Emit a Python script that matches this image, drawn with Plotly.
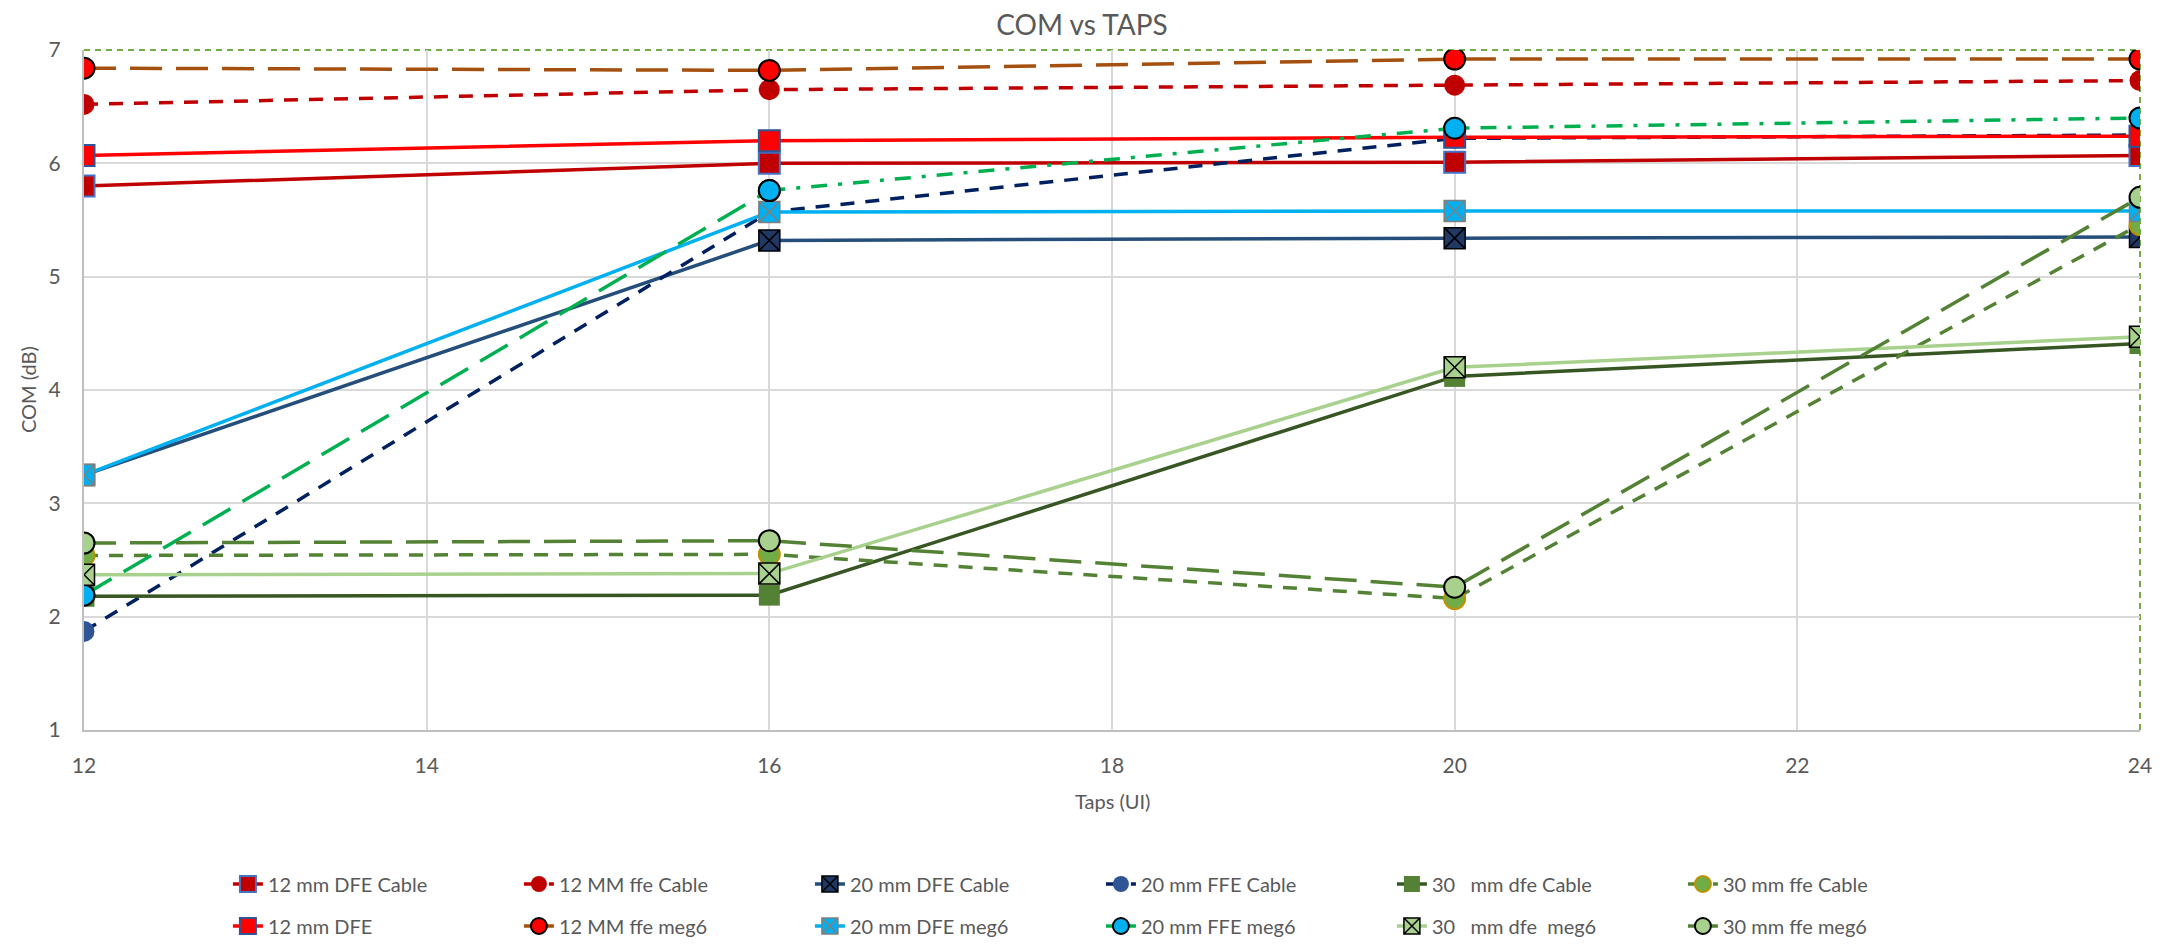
import plotly.graph_objects as go

taps = [12, 16, 20, 24]

dfe12_cable = [5.80, 6.00, 6.01, 6.07]
ffe12_cable = [6.52, 6.65, 6.69, 6.73]
dfe20_cable = [3.25, 5.32, 5.34, 5.35]
ffe20_cable = [1.87, 5.57, 6.22, 6.25]
dfe30_cable = [2.18, 2.19, 4.12, 4.41]
ffe30_cable = [2.54, 2.55, 2.16, 5.46]
dfe12_meg6 = [6.07, 6.20, 6.23, 6.24]
ffe12_meg6 = [6.84, 6.82, 6.92, 6.92]
dfe20_meg6 = [3.25, 5.57, 5.58, 5.58]
ffe20_meg6 = [2.19, 5.76, 6.31, 6.40]
dfe30_meg6 = [2.37, 2.38, 4.20, 4.47]
ffe30_meg6 = [2.65, 2.67, 2.26, 5.70]

x_ticks = [12, 14, 16, 18, 20, 22, 24]
y_ticks = [1, 2, 3, 4, 5, 6, 7]

MS = 21
LW = 3.5
SHORT = "14px,11px"
LONG = "32px,14px"
DASHDOT = "16px,11px,4px,11px"

fig = go.Figure()


def add(name, y, lcolor, dash, symbol, mfill, mline, mlw, legend, x=None, showlegend=True, group=None):
    fig.add_trace(go.Scatter(
        x=taps if x is None else x, y=y, name=name, mode="lines+markers",
        line=dict(color=lcolor, width=LW, dash=dash),
        marker=dict(symbol=symbol, size=MS, color=mfill,
                    line=dict(color=mline, width=mlw)),
        legend=legend, showlegend=showlegend,
        legendgroup=group if group else name,
    ))


# Row 1 (Cable)
add("12 mm DFE Cable", dfe12_cable, "#C00000", "solid", "square", "#C00000", "#4472C4", 2, "legend")
add("12 MM ffe Cable", ffe12_cable, "#C00000", SHORT, "circle", "#C00000", "#C00000", 0, "legend")
add("20 mm DFE Cable", dfe20_cable, "#264E7A", "solid", "square-x", "#1F3864", "#000000", 1.5, "legend")
add("20 mm FFE Cable", ffe20_cable, "#002060", SHORT, "circle", "#2F5597", "#2F5597", 0, "legend")
add("30   mm dfe Cable", dfe30_cable, "#375623", "solid", "square", "#548235", "#548235", 0, "legend")
add("30 mm ffe Cable", ffe30_cable, "#548235", SHORT, "circle", "#70AD47", "#BF9000", 2, "legend")
# Row 2 (meg6)
add("12 mm DFE", dfe12_meg6, "#FF0000", "solid", "square", "#FF0000", "#2F5597", 2, "legend2")
add("12 MM ffe meg6", ffe12_meg6, "#A5500F", LONG, "circle", "#FF0000", "#000000", 2, "legend2")
add("20 mm DFE meg6", dfe20_meg6, "#00B0F0", "solid", "square-x", "#00B0F0", "#7F7F7F", 1.5, "legend2")
add("20 mm FFE meg6", ffe20_meg6[:2], "#00B050", LONG, "circle", "#00B0F0", "#000000", 2, "legend2",
    x=taps[:2], group="ffe20meg6")
add("20 mm FFE meg6", ffe20_meg6[1:], "#00B050", DASHDOT, "circle", "#00B0F0", "#000000", 2, "legend2",
    x=taps[1:], showlegend=False, group="ffe20meg6")
add("30   mm dfe  meg6", dfe30_meg6, "#A9D18E", "solid", "square-x", "#A9D18E", "#000000", 1.5, "legend2")
add("30 mm ffe meg6", ffe30_meg6, "#548235", LONG, "circle", "#A9D18E", "#000000", 2, "legend2")

FONT = "Lato"
GREY = "#595959"

# dashed green plot-area border (top and right edges)
fig.add_shape(type="line", xref="paper", yref="paper", x0=0, x1=1, y0=1, y1=1,
              line=dict(color="#70AD47", width=2, dash="6px,5px"), layer="below")
fig.add_shape(type="line", xref="paper", yref="paper", x0=1, x1=1, y0=0, y1=1,
              line=dict(color="#70AD47", width=2, dash="6px,5px"), layer="below")

legend_common = dict(orientation="h", xanchor="left", yanchor="middle",
                     font=dict(family=FONT, size=20, color=GREY),
                     entrywidth=246, entrywidthmode="pixels",
                     bgcolor="rgba(0,0,0,0)", itemclick=False, itemdoubleclick=False)

fig.update_layout(
    width=2177, height=947,
    margin=dict(l=84, r=37, t=50, b=217, autoexpand=False),
    paper_bgcolor="white", plot_bgcolor="white",
    font=dict(family=FONT, color=GREY),
    title=dict(text="COM vs TAPS", x=(1082) / 2177, xanchor="center",
               y=1 - 25 / 947, yanchor="middle",
               font=dict(family=FONT, size=28, color=GREY)),
    xaxis=dict(range=[12, 24], tickvals=x_ticks, ticktext=[str(v) for v in x_ticks],
               showgrid=True, gridcolor="#D9D9D9", gridwidth=1.5,
               showline=True, linecolor="#BFBFBF", linewidth=2,
               zeroline=False, ticks="", tickfont=dict(family=FONT, size=21, color=GREY),
               ticklabelstandoff=16, automargin=False),
    yaxis=dict(range=[1, 7], tickvals=y_ticks, ticktext=[str(v) for v in y_ticks],
               showgrid=True, gridcolor="#D9D9D9", gridwidth=1.5,
               showline=True, linecolor="#BFBFBF", linewidth=2,
               zeroline=False, ticks="", tickfont=dict(family=FONT, size=21, color=GREY),
               ticklabelstandoff=17, automargin=False),
    legend=dict(x=0.070, y=(730 - 884) / 680, **legend_common),
    legend2=dict(x=0.070, y=(730 - 926) / 680, **legend_common),
    annotations=[
        dict(text="Taps (UI)", xref="paper", yref="paper", x=0.5, y=(730 - 801) / 680,
             xanchor="center", yanchor="middle", showarrow=False,
             font=dict(family=FONT, size=20, color=GREY)),
        dict(text="COM (dB)", xref="paper", yref="paper", x=(28 - 84) / 2056, y=0.5,
             xanchor="center", yanchor="middle", showarrow=False, textangle=-90,
             font=dict(family=FONT, size=20, color=GREY)),
    ],
)

fig.write_html("out.html")
